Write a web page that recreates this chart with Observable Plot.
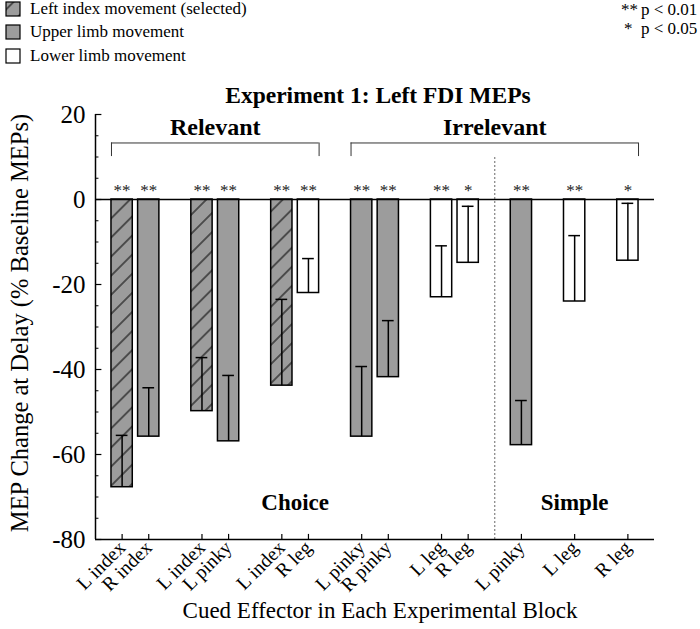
<!DOCTYPE html>
<html><head><meta charset="utf-8">
<script src="https://cdn.jsdelivr.net/npm/d3@7"></script>
<script src="https://cdn.jsdelivr.net/npm/@observablehq/plot@0.6"></script>
<style>
body{margin:0;background:#fff;font-family:"Liberation Serif","Times New Roman",serif;color:#000}
#wrap{position:relative;width:700px;height:629px;overflow:hidden;background:#fff}
.lg{position:absolute;left:5px;height:24px;display:flex;align-items:center;font-size:17px;white-space:nowrap}
.lg svg{margin-right:9px}
.pv{position:absolute;font-size:17px;white-space:nowrap;line-height:20px}
#title{position:absolute;left:98px;width:560px;top:80px;text-align:center;font-weight:bold;font-size:23.5px;line-height:30px}
#chart{position:absolute;left:0;top:110px}
#chart svg, #chart svg text{font-family:"Liberation Serif","Times New Roman",serif !important}
</style></head><body>
<svg width="0" height="0" style="position:absolute"><defs>
<pattern id="hatch" patternUnits="userSpaceOnUse" width="14" height="13.5" patternTransform="rotate(-45)">
<rect width="14" height="13.5" fill="#9c9c9c"/>
<line x1="0" y1="6.75" x2="14" y2="6.75" stroke="#000" stroke-width="1"/>
</pattern></defs></svg>
<div id="wrap">
  <div class="lg" style="top:-3px"><svg width="16" height="16"><rect x="1" y="1" width="14" height="14" fill="url(#hatch)" stroke="#000" stroke-width="1.2"/></svg><span>Left index movement (selected)</span></div>
  <div class="lg" style="top:20px"><svg width="16" height="16"><rect x="1" y="1" width="14" height="14" fill="#9c9c9c" stroke="#000" stroke-width="1.2"/></svg><span>Upper limb movement</span></div>
  <div class="lg" style="top:44px"><svg width="16" height="16"><rect x="1" y="1" width="14" height="14" fill="#fff" stroke="#000" stroke-width="1.2"/></svg><span>Lower limb movement</span></div>
  <div class="pv" style="left:621px;top:0px">**</div><div class="pv" style="left:641px;top:0px">p &lt; 0.01</div>
  <div class="pv" style="left:624px;top:19px">*</div><div class="pv" style="left:641px;top:19px">p &lt; 0.05</div>
  <div id="title">Experiment 1: Left FDI MEPs</div>
  <div id="chart"></div>
</div>
<script>
// ---- data ----
const labels = ["L index","R index","L index","L pinky","L index","R leg","L pinky","R pinky","L leg","R leg","L pinky","L leg","R leg"];
const slot   = [0, 1, 3, 4, 6, 7, 9, 10, 12, 13, 15, 17, 19];
const kind   = ["selected","upper","selected","upper","selected","lower","upper","upper","lower","lower","upper","lower","lower"];
const mean   = [-67.7, -55.8, -49.8, -56.9, -43.8, -22.0, -55.8, -41.8, -23.0, -14.9, -57.8, -24.0, -14.4];
const se     = [12.2, 11.5, 12.6, 15.5, 20.3, 8.1, 16.5, 13.3, 12.1, 13.3, 10.5, 15.5, 13.5];
const sig    = ["**","**","**","**","**","**","**","**","**","*","**","**","*"];
const groupNames = ["Relevant","Irrelevant"];
const groupFrom  = [0, 9];
const groupTo    = [7, 19];
const blockNames = ["Choice","Simple"];
const blockAt    = [6.5, 17];
const separator  = [14];
const yMajor = [20, 0, -20, -40, -60, -80];
const yMinor = [15, 10, 5, -5, -10, -15, -25, -30, -35, -45, -50, -55, -65, -70, -75];

const rows = labels.map((l, i) => ({label: l, slot: slot[i], kind: kind[i], mean: mean[i], top: mean[i] + se[i], sig: sig[i]}));
const groups = groupNames.map((n, i) => ({name: n, from: groupFrom[i], to: groupTo[i]}));
const blocks = blockNames.map((n, i) => ({name: n, at: blockAt[i]}));
const fills = {selected: "url(#hatch)", upper: "#9c9c9c", lower: "#ffffff"};
const half = 0.4, cap = 0.22, brY = 13.3, brTip = 10.1;
const FF = "Liberation Serif, Times New Roman, serif";

const barMark = k => Plot.rect(rows.filter(d => d.kind === k), {
  x1: d => d.slot - half, x2: d => d.slot + half, y1: 0, y2: "mean",
  fill: fills[k], stroke: "#000", strokeWidth: 1.5
});

const chart = Plot.plot({
  width: 700, height: 519,
  marginLeft: 95, marginRight: 46, marginTop: 4, marginBottom: 90,
  x: {domain: [-1, 20]},
  y: {domain: [-80, 20]},
  style: {fontFamily: FF, background: "none", color: "#000", overflow: "visible"},
  marks: [
    barMark("selected"), barMark("upper"), barMark("lower"),
    Plot.ruleX(rows, {x: "slot", y1: "mean", y2: "top", stroke: "#000", strokeWidth: 1.5}),
    Plot.ruleY(rows, {y: "top", x1: d => d.slot - cap, x2: d => d.slot + cap, stroke: "#000", strokeWidth: 1.5}),
    Plot.ruleX(separator, {x: d => d, y1: -80, y2: brTip, stroke: "#666", strokeWidth: 1, strokeDasharray: "2,2"}),
    Plot.ruleY([0], {stroke: "#000", strokeWidth: 1.5}),
    Plot.ruleY([-80], {stroke: "#000", strokeWidth: 1.5}),
    Plot.ruleX([-1], {stroke: "#000", strokeWidth: 1.5}),
    Plot.ruleY(yMajor, {x1: -1, x2: -0.76, stroke: "#000", strokeWidth: 1.2}),
    Plot.ruleY(yMinor, {x1: -1, x2: -0.87, stroke: "#000", strokeWidth: 1}),
    Plot.ruleX(rows, {x: "slot", y1: -80, y2: -78.8, stroke: "#000", strokeWidth: 1.2}),
    Plot.axisY(yMajor, {tickSize: 0, tickPadding: 10, fontSize: 25, fontFamily: FF, tickFormat: d => String(d), label: null}),
    Plot.axisX(slot, {tickSize: 0, tickPadding: 5, tickRotate: -45, fontSize: 19.5, fontFamily: FF, tickFormat: d => labels[slot.indexOf(d)], label: null}),
    // brackets
    Plot.ruleY(groups, {y: () => brY, x1: d => d.from - half, x2: d => d.to + half, stroke: "#333", strokeWidth: 1}),
    Plot.ruleX(groups, {x: d => d.from - half, y1: () => brTip, y2: () => brY, stroke: "#333", strokeWidth: 1}),
    Plot.ruleX(groups, {x: d => d.to + half, y1: () => brTip, y2: () => brY, stroke: "#333", strokeWidth: 1}),
    Plot.text(groups, {x: d => (d.from + d.to) / 2, y: () => 17, text: "name", fontSize: 24, fontWeight: "bold", fontFamily: FF, lineAnchor: "middle"}),
    Plot.text(blocks, {x: "at", y: () => -71.3, text: "name", fontSize: 23, fontWeight: "bold", fontFamily: FF, lineAnchor: "middle"}),
    Plot.text(rows, {x: "slot", y: () => 0, text: "sig", dy: -9, fontSize: 17, fontFamily: FF, fill: "#222", lineAnchor: "middle"}),
    Plot.text(["MEP Change at Delay (% Baseline MEPs)"], {text: d => d, frameAnchor: "left", rotate: -90, dx: -75, dy: -4, textAnchor: "middle", lineAnchor: "middle", fontSize: 24.5, fontFamily: FF}),
    Plot.text(["Cued Effector in Each Experimental Block"], {text: d => d, frameAnchor: "bottom", dy: 71, dx: 5, textAnchor: "middle", lineAnchor: "middle", fontSize: 23, fontFamily: FF})
  ]
});
document.getElementById("chart").appendChild(chart);
</script>
</body></html>
